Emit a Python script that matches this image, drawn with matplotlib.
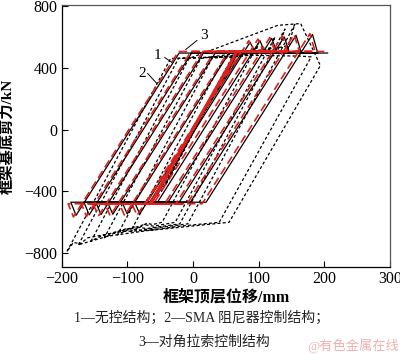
import matplotlib.pyplot as plt

# 1 - uncontrolled frame (black solid)
s1_x = [0, 62, -52, 68, 95, 87, -66, -89, -81, 74, 110, 102, -54, -108, -100, 55,
        128, 120, -38, -130, -122, 34, 147, 139, -21, -148, -140, 16, 165, 157, -4,
        -166, -158, -2, 190, 182, 20, -186, -178, -21, 205]
s1_y = [0, 440, -380, 490, 495, 565, -470, -470, -545, 495, 495, 575, -470, -470, -546, 495,
        495, 590, -470, -470, -548, 495, 495, 600, -470, -470, -550, 495, 495, 610, -470,
        -470, -552, 495, 495, 615, -470, -470, -555, 495, 495]

# 2 - SMA damper controlled frame (black dashed)
s2_x = [0, 52, -42, 58, -48, 62, -55, 60,
        95, 100, -47, -62, -70, -80, -95,
        47, 115, 125, -27, -60, -75, -100, -115,
        29, 130, 140, -20, -70, -90, -120, -135,
        12, 145, 155, -8, -80, -100, -140, -155,
        -6, 129, 164, 194, 55, 20, -60, -110, -160, -175,
        -22, 90, 165, 180, 40, -20, -80, -130, -170, -182, -192,
        -34, 60]
s2_y = [0, 400, -360, 440, -400, 465, -430, 470,
        495, 560, -600, -615, -605, -630, -660,
        460, 500, 600, -600, -625, -615, -650, -680,
        460, 520, 650, -610, -640, -630, -670, -700,
        460, 540, 680, -610, -650, -640, -690, -720,
        460, 674, 686, 414, -600, -615, -650, -660, -700, -750,
        460, 480, 475, 470, -600, -625, -660, -690, -740, -730, -790,
        460, 470]

# 3 - diagonal cable controlled frame (red)
s3_x = [0, 60, -58, 63, -62, 66, 92, 85, -72, -93, -85, 73, 107, 99, -60, -112, -104, 54,
        125, 117, -43, -134, -126, 33, 144, 136, -26, -152, -144, 15, 162, 154, -9,
        -170, -162, -3, 186, 178, 14, -190, -182, -22, 200]
s3_y = [0, 450, -440, 470, -470, 500, 505, 575, -480, -480, -555, 505, 505, 585, -480, -480, -557, 505,
        505, 595, -480, -480, -558, 505, 505, 605, -480, -480, -560, 505, 505, 615, -480,
        -480, -562, 505, 505, 620, -480, -480, -565, 505, 505]
core_x = [-65, 67]
core_y = [-480, 505]

x_ticks = [-200, -100, 0, 100, 200, 300]
y_ticks = [-800, -400, 0, 400, 800]

# curve number labels: text, text position, leader start, leader end
curve_labels = [('1', (-54, 481), (-43, 466), (-32, 434)),
                ('2', (-78, 363), (-69, 363), (-55, 298)),
                ('3', (17, 609), (6, 576), (-11, 518))]

serif_cjk = ['Liberation Serif', 'Noto Sans CJK SC']


def main():
    fig = plt.figure(figsize=(4, 3.54), dpi=100)
    ax = fig.add_axes([0.154, 0.2458, 0.821, 0.7402])

    ax.plot(s2_x, s2_y, color='black', lw=0.9, dashes=(2.4, 1.8))
    ax.plot(s1_x, s1_y, color='black', lw=0.9)
    ax.plot(core_x, core_y, color='#e0201a', lw=2.2, solid_capstyle='butt')
    ax.plot(s3_x, s3_y, color='#e0201a', lw=1.2, dashes=(5, 2.5))

    for txt, pos, lead0, lead1 in curve_labels:
        ax.text(pos[0], pos[1], txt, fontsize=11, family=serif_cjk,
                ha='center', va='center')
        ax.plot([lead0[0], lead1[0]], [lead0[1], lead1[1]], color='black', lw=0.7)

    ax.set_xlim(-200, 300)
    ax.set_ylim(-889, 806)
    ax.set_xticks(x_ticks)
    ax.set_yticks(y_ticks)
    ax.set_xticklabels([str(v).replace('-', '\u2212') for v in x_ticks])
    ax.set_yticklabels([str(v).replace('-', '\u2212') for v in y_ticks])
    for lab in ax.get_xticklabels() + ax.get_yticklabels():
        lab.set_family(serif_cjk)
        lab.set_fontsize(11.5)
    ax.tick_params(direction='in', length=4, width=0.8, top=False, right=False)
    ax.tick_params(axis='x', pad=3)
    ax.tick_params(axis='y', pad=3)

    for side in ['left', 'bottom']:
        ax.spines[side].set_linewidth(0.9)
        ax.spines[side].set_color('black')
    for side in ['top', 'right']:
        ax.spines[side].set_linewidth(0.9)
        ax.spines[side].set_color('#555555')

    ax.set_xlabel('框架顶层位移/mm', family=serif_cjk, fontsize=11.5,
                  fontweight='bold', labelpad=2)
    ax.set_ylabel('框架基底剪力/kN', family=serif_cjk, fontsize=11,
                  fontweight='bold')
    ax.yaxis.set_label_coords(-0.142, 0.5)

    fig.text(0.504, 1 - 318 / 354, '1\u2014无控结构；2\u2014SMA 阻尼器控制结构；',
             family=serif_cjk, fontsize=10, ha='center', va='center', color='#222222')
    fig.text(0.511, 1 - 342 / 354, '3\u2014对角拉索控制结构',
             family=serif_cjk, fontsize=10, ha='center', va='center', color='#222222')
    fig.text(0.998, 1 - 346 / 354, '@有色金属在线', family=serif_cjk, fontsize=9.5,
             ha='right', va='center', color='#f0b0b0')

    fig.savefig('out.png', dpi=100)


if __name__ == '__main__':
    main()
